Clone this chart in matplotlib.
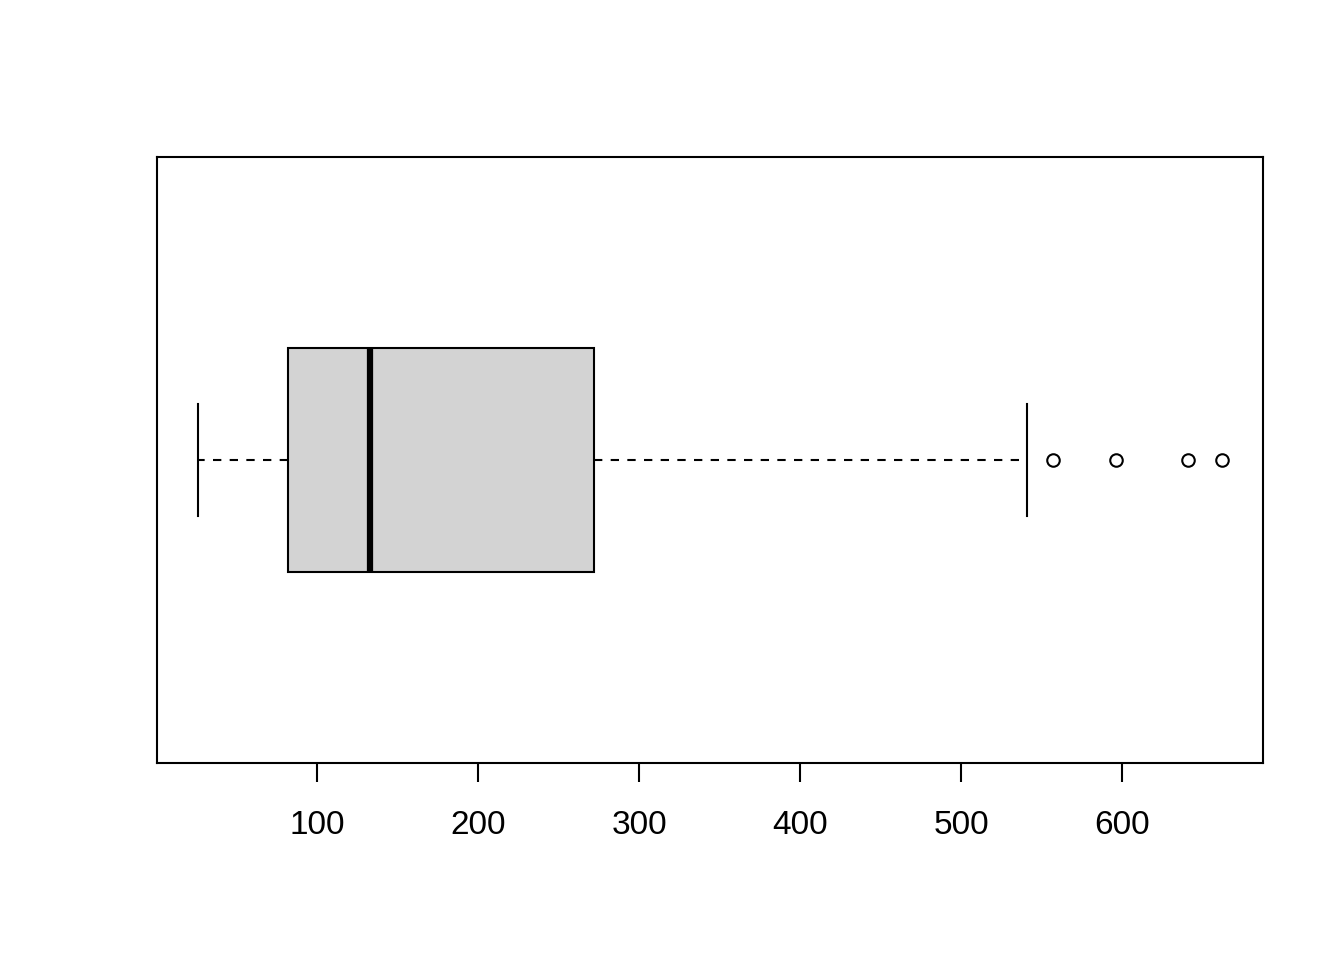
import matplotlib
matplotlib.use("Agg")
import matplotlib.pyplot as plt

# five-number summary
whisker_low = 26
q1 = 82
median = 133
q3 = 272
whisker_high = 541
outliers = [557, 596, 641, 662]
ticks = [100, 200, 300, 400, 500, 600]

plt.rcParams['font.family'] = ['Liberation Sans', 'DejaVu Sans']

fig = plt.figure(figsize=(13.44, 9.6), dpi=100)
ax = fig.add_axes([157/1344, 1 - 763/960, (1263 - 157)/1344, (763 - 157)/960])

stats = [{
    "med": median, "q1": q1, "q3": q3,
    "whislo": whisker_low, "whishi": whisker_high,
    "fliers": outliers,
}]

ax.bxp(stats, positions=[1], widths=0.4, capwidths=0.2, vert=False,
       patch_artist=True, showfliers=True,
       boxprops=dict(facecolor="#D3D3D3", edgecolor="black", linewidth=1.5),
       medianprops=dict(color="black", linewidth=4.5, solid_capstyle="butt"),
       whiskerprops=dict(color="black", linewidth=1.5, linestyle=(0, (4, 4))),
       capprops=dict(color="black", linewidth=1.5),
       flierprops=dict(marker="o", markersize=9, markerfacecolor="none",
                       markeredgecolor="black", markeredgewidth=1.5))

lo = min([whisker_low] + outliers)
hi = max([whisker_high] + outliers)
pad = 0.04 * (hi - lo)
ax.set_xlim(lo - pad, hi + pad)
ax.set_ylim(0.46, 1.54)

ax.set_xticks(ticks)
ax.set_xticklabels([str(t) for t in ticks], fontsize=24)
ax.tick_params(axis="x", length=14, width=1.5, pad=20, color="black")
ax.set_yticks([])
for s in ax.spines.values():
    s.set_linewidth(1.5)

fig.savefig("out.png", dpi=100)
